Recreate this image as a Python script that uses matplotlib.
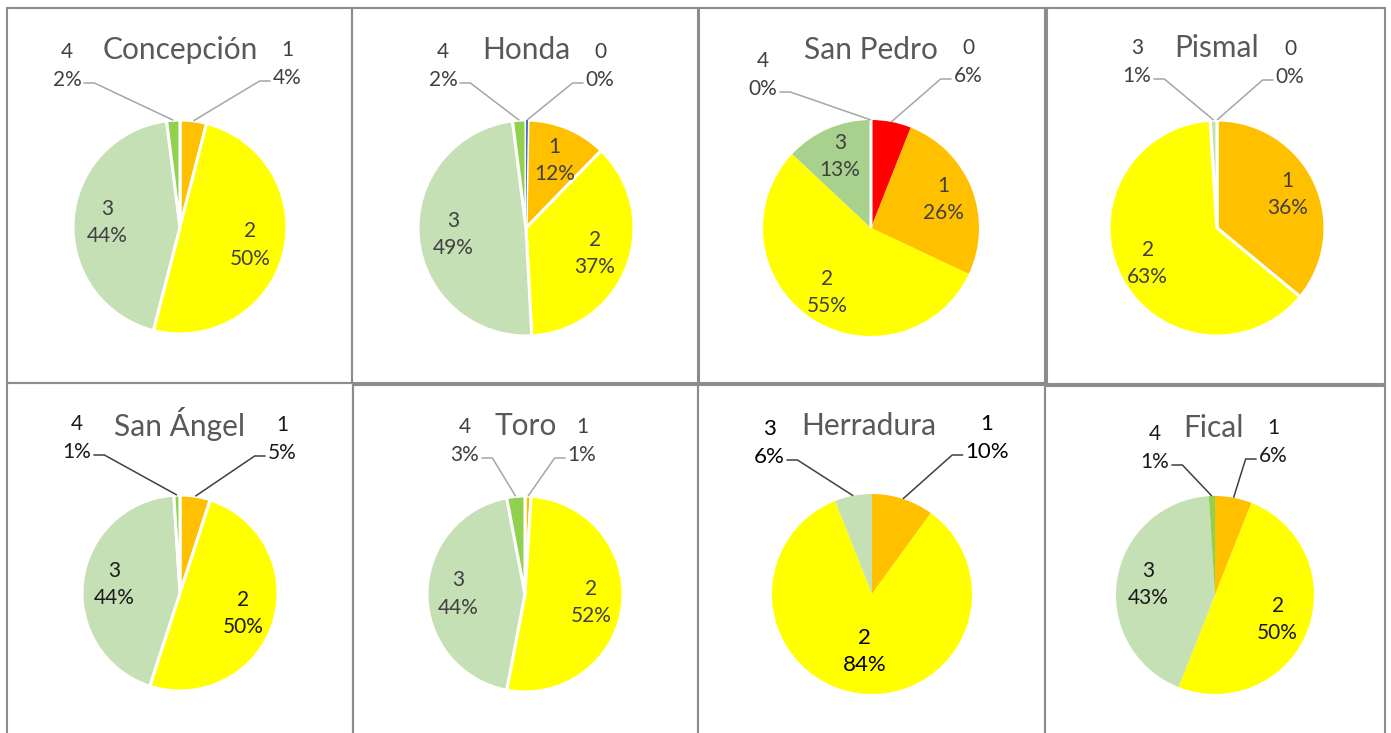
import math
import matplotlib
matplotlib.use("Agg")
import matplotlib.pyplot as plt
from matplotlib.patches import Rectangle

plt.rcParams["font.family"] = ["Lato", "DejaVu Sans"]

W, H = 1391, 733

# ---- data: share of each class per site (%), clockwise from 12 o'clock ----
titles = ["Concepción", "Honda", "San Pedro", "Pismal",
          "San Ángel", "Toro", "Herradura", "Fical"]

concepcion_cats = ["1", "2", "3", "4"]
concepcion_vals = [4, 50, 44, 2]

honda_cats = ["0", "1", "2", "3", "4"]
honda_vals = [0.3, 12, 37, 49, 2]

san_pedro_cats = ["0", "1", "2", "3", "4"]
san_pedro_vals = [6, 26, 55, 13, 0]

pismal_cats = ["0", "1", "2", "3"]
pismal_vals = [0, 36, 63, 1]

san_angel_cats = ["1", "2", "3", "4"]
san_angel_vals = [5, 50, 44, 1]

toro_cats = ["1", "2", "3", "4"]
toro_vals = [1, 52, 44, 3]

herradura_cats = ["1", "2", "3"]
herradura_vals = [10, 84, 6]

fical_cats = ["1", "2", "3", "4"]
fical_vals = [6, 50, 43, 1]

all_cats = [concepcion_cats, honda_cats, san_pedro_cats, pismal_cats,
            san_angel_cats, toro_cats, herradura_cats, fical_cats]
all_vals = [concepcion_vals, honda_vals, san_pedro_vals, pismal_vals,
            san_angel_vals, toro_vals, herradura_vals, fical_vals]

# ---- styling ----
CLASS_COLORS = {"0": "#FF0000", "1": "#FFC000", "2": "#FFFF00",
                "3": "#C5E0B4", "4": "#92D050"}
panel_color_override = {1: {"0": "#4472C4"}, 2: {"3": "#A9D18E"}}

# panel frames (x0, y0, x1, y1) in pixels from the top-left corner
frames = [(7, 8, 352, 383), (352, 8, 698, 383), (699, 8, 1045, 383),
          (1047, 8, 1385, 384),
          (7, 383, 353, 740), (353, 385, 698, 740), (698, 385, 1045, 740),
          (1045, 386, 1385, 740)]
# pie centre and radius in pixels
pies = [(180, 227, 107), (526, 228, 108), (871, 228, 108), (1217, 228, 108),
        (180, 593, 98), (525, 594, 98), (872, 594, 100), (1215, 595, 99)]
# centre of the two outside labels (first / last slice), pixels
outside_first = [(287, 64), (600, 66), (968, 62), (1290, 63),
                 (282, 439), (582, 441), (987, 438), (1273, 442)]
outside_last = [(67, 66), (443, 66), (763, 75), (1137, 62),
                (77, 438), (465, 441), (769, 443), (1155, 448)]
title_pos = [(180, 50), (526, 50), (871, 50), (1217, 48),
             (180, 424), (526, 426), (869, 426), (1213, 428)]
edge_width = [2.2, 2.2, 0, 2.2, 2.2, 2.2, 0, 0]
label_color = ["#404040", "#404040", "#404040", "#404040",
               "#1a1a1a", "#404040", "#000000", "#1a1a1a"]
leader_color = ["#A6A6A6", "#A6A6A6", "#A6A6A6", "#A6A6A6",
                "#404040", "#A6A6A6", "#404040", "#404040"]
label_size = [15, 15, 15, 15, 15, 15, 16, 15]
inside_dist = [0.68, 0.68, 0.72, 0.72, 0.68, 0.68, 0.58, 0.68]


def py(y):
    """pixel row (from top) -> data y"""
    return H - y


fig = plt.figure(figsize=(W / 100, H / 100), dpi=100)
ax = fig.add_axes([0, 0, 1, 1])

for k in range(8):
    cats, vals = all_cats[k], all_vals[k]
    cx, cy, r = pies[k]
    colors = [panel_color_override.get(k, {}).get(c, CLASS_COLORS[c]) for c in cats]

    wedges, _ = ax.pie(vals, colors=colors, startangle=90, counterclock=False,
                       center=(cx, py(cy)), radius=r, normalize=True,
                       wedgeprops=dict(edgecolor="white",
                                       linewidth=edge_width[k]))
    # pie() resets the view; restore the pixel-sized canvas
    ax.set_xlim(0, W)
    ax.set_ylim(0, H)
    for w, v in zip(wedges, vals):
        if v == 0:
            w.set_edgecolor("white")
            w.set_linewidth(2.2)
        elif v < 1:
            # hair-thin slice: keep it above the neighbours' white outlines
            w.set_linewidth(0)
            w.set_zorder(2)

    # title
    tx, ty = title_pos[k]
    ax.text(tx, py(ty), titles[k], ha="center", va="center",
            fontsize=21.5, color="#595959")

    n = len(vals)
    for i, (w, c, v) in enumerate(zip(wedges, cats, vals)):
        mid = math.radians((w.theta1 + w.theta2) / 2)
        label = f"{c}\n{v:.0f}%"
        if i in (0, n - 1):
            lx, ly = outside_first[k] if i == 0 else outside_last[k]
            t = ax.text(lx, py(ly), label, ha="center", va="center",
                        fontsize=label_size[k], color=label_color[k],
                        linespacing=1.45)
            fig.canvas.draw()
            bb = t.get_window_extent().transformed(ax.transData.inverted())
            yline = py(ly + 17)
            if i == 0:
                x_end = bb.x0 - 2
                x_elb = x_end - 11
            else:
                x_end = bb.x1 + 2
                x_elb = x_end + 11
            ax_pt = (cx + r * math.cos(mid), py(cy) + r * math.sin(mid))
            ax.plot([x_end, x_elb, ax_pt[0]], [yline, yline, ax_pt[1]],
                    color=leader_color[k], lw=1.1, solid_capstyle="butt",
                    zorder=3)
        else:
            d = inside_dist[k] * r
            ax.text(cx + d * math.cos(mid), py(cy) + d * math.sin(mid), label,
                    ha="center", va="center", fontsize=label_size[k],
                    color=label_color[k], linespacing=1.45)

    x0, y0, x1, y1 = frames[k]
    ax.add_patch(Rectangle((x0, py(y1)), x1 - x0, y1 - y0, fill=False,
                           edgecolor="#8C8C8C", linewidth=1.5, zorder=5))

ax.set_xlim(0, W)
ax.set_ylim(0, H)
ax.set_aspect("equal")
ax.axis("off")
fig.savefig("out.png", dpi=100, facecolor="white")
